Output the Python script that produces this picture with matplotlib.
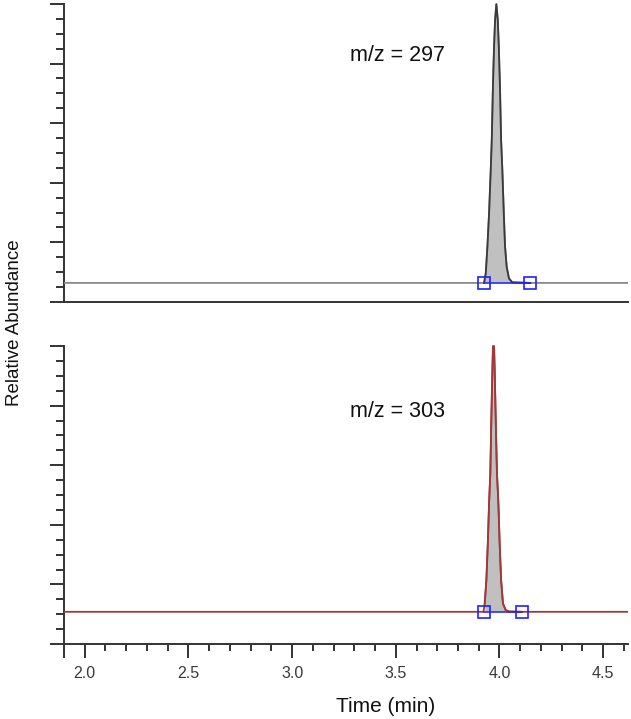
import matplotlib
matplotlib.use("Agg")
import matplotlib.pyplot as plt
from matplotlib.ticker import FixedLocator, FixedFormatter, MultipleLocator

plt.rcParams['font.family'] = ['Liberation Sans', 'DejaVu Sans']

# ---- data ----
x_range = [1.9, 4.62]

# m/z = 297 trace (relative abundance, %)
t_297 = [1.90, 3.926, 3.934, 3.942, 3.950, 3.958, 3.963, 3.969, 3.974, 3.979, 3.985,
         3.992, 3.997, 4.003, 4.008, 4.014, 4.021, 4.027, 4.035, 4.046, 4.062, 4.149, 4.62]
y_297 = [6.4, 6.4, 9.6, 18.6, 29.8, 44.3, 54.4, 73.4, 85.7, 94.6, 100.0,
         94.6, 85.7, 71.0, 54.4, 44.3, 29.8, 18.6, 11.8, 7.9, 6.6, 6.4, 6.4]
peak_297 = [3.924, 4.149]   # integration limits
base_297 = 6.4

# m/z = 303 trace
t_303 = [1.90, 3.923, 3.929, 3.937, 3.944, 3.950, 3.956, 3.961, 3.966, 3.969, 3.974,
         3.977, 3.982, 3.988, 3.995, 4.001, 4.008, 4.017, 4.030, 4.046, 4.107, 4.62]
y_303 = [10.8, 10.8, 13.6, 21.5, 33.8, 47.2, 57.3, 75.7, 91.9, 100.0, 100.0,
         91.9, 75.7, 57.3, 47.2, 33.8, 21.5, 13.6, 11.4, 10.9, 10.8, 10.8]
peak_303 = [3.924, 4.107]
base_303 = 10.8

labels = ["m/z = 297", "m/z = 303"]
label_pos = [(3.507, 82.6), (3.507, 77.9)]

x_major = [1.9, 2.0, 2.5, 3.0, 3.5, 4.0, 4.5]
x_major_labels = ["", "2.0", "2.5", "3.0", "3.5", "4.0", "4.5"]

# ---- figure ----
W, H = 631, 719
fig = plt.figure(figsize=(W / 100, H / 100), dpi=100)

ax_top = fig.add_axes([64 / W, 1 - 302 / H, 564 / W, 298 / H])
ax_bot = fig.add_axes([64 / W, 1 - 644 / H, 564 / W, 298 / H])

spine_col = "#333333"

def style(ax, show_x):
    ax.set_xlim(*x_range)
    ax.set_ylim(0, 100)
    for s in ["top", "right"]:
        ax.spines[s].set_visible(False)
    for s in ["left", "bottom"]:
        ax.spines[s].set_color(spine_col)
        ax.spines[s].set_linewidth(1.4)
    ax.yaxis.set_major_locator(MultipleLocator(20))
    ax.yaxis.set_minor_locator(MultipleLocator(5))
    ax.tick_params(axis="y", which="major", length=10, width=1.4, color=spine_col,
                   labelleft=False, direction="out")
    ax.tick_params(axis="y", which="minor", length=5.8, width=1.4, color=spine_col,
                   direction="out")
    if show_x:
        ax.xaxis.set_major_locator(FixedLocator(x_major))
        ax.xaxis.set_major_formatter(FixedFormatter(x_major_labels))
        ax.xaxis.set_minor_locator(MultipleLocator(0.1))
        ax.tick_params(axis="x", which="major", length=10, width=1.4, color=spine_col,
                       labelsize=11.5, labelcolor="#3a3a3a", pad=6)
        ax.tick_params(axis="x", which="minor", length=5, width=1.4, color=spine_col)
    else:
        ax.tick_params(axis="x", which="both", length=0, labelbottom=False)
    ax.set_facecolor("white")

def draw(ax, t, y, lims, base, baseline_col, peak_col, label, lpos):
    inside = [i for i, ti in enumerate(t) if lims[0] <= ti <= lims[1]]
    i0, i1 = inside[0], inside[-1]
    # shaded peak area
    ax.fill_between(t[i0:i1 + 1], y[i0:i1 + 1], base, color="#c0c0c0",
                    linewidth=0, zorder=2)
    # whole trace, then peak outline on top
    ax.plot(t, y, color=baseline_col, linewidth=1.3, zorder=3)
    ax.plot(t[i0:i1 + 1], y[i0:i1 + 1], color=peak_col, linewidth=1.3, zorder=3.5,
            clip_on=False)
    # integration baseline and markers
    ax.plot(lims, [base, base], color="#2020ff", linewidth=1.1, zorder=4)
    ax.plot(lims, [base, base], linestyle="none", marker="s", markersize=8,
            markerfacecolor="none", markeredgecolor="#2020ff", markeredgewidth=1.2,
            zorder=5, clip_on=False)
    ax.text(lpos[0], lpos[1], label, fontsize=15.5, ha="center", va="center",
            color="#111111")

style(ax_top, False)
style(ax_bot, True)

draw(ax_top, t_297, y_297, peak_297, base_297, "#8a8a8a", "#3a3a3a", labels[0], label_pos[0])
draw(ax_bot, t_303, y_303, peak_303, base_303, "#a03a3a", "#a03a3a", labels[1], label_pos[1])

fig.text(15 / W, 1 - 323 / H, "Relative Abundance", rotation=90, ha="center",
         va="center", fontsize=13.5, color="#111111")
fig.text(386 / W, 1 - 706 / H, "Time (min)", ha="center", va="center",
         fontsize=15, color="#111111")

fig.savefig("out.png", dpi=100, facecolor="white")
